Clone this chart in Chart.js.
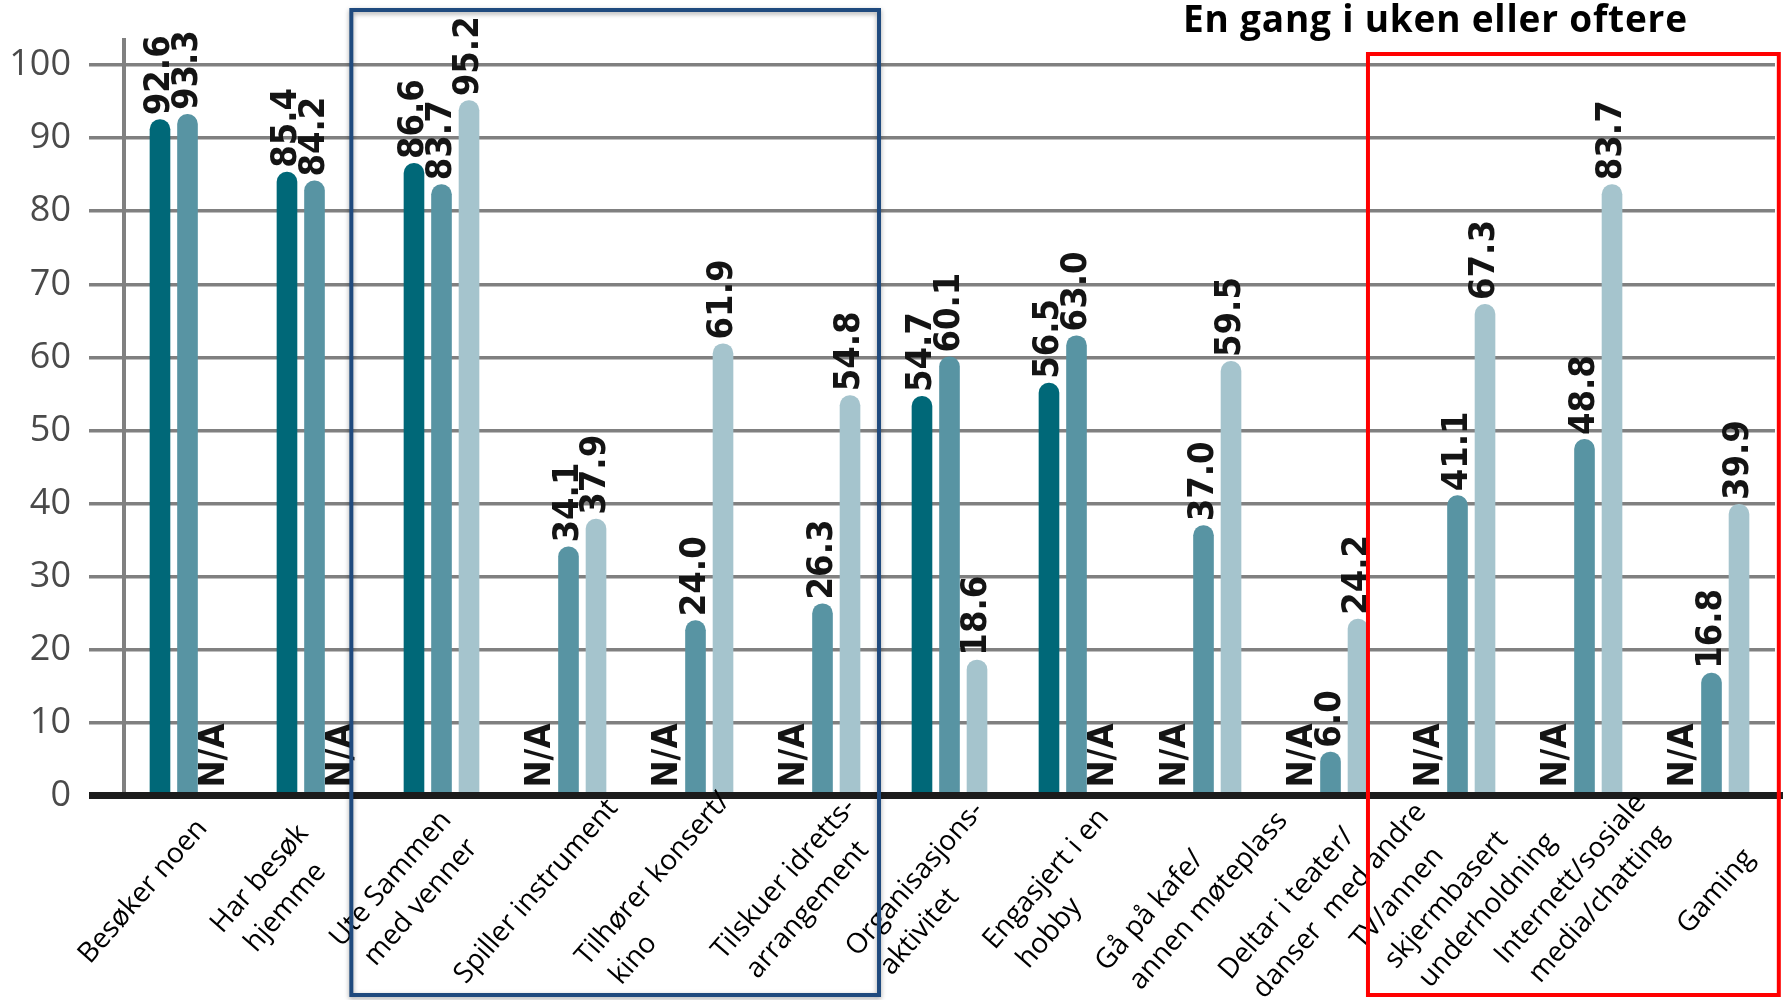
<!DOCTYPE html>
<html>
<head>
<meta charset="utf-8">
<script src="https://cdn.jsdelivr.net/npm/chart.js@4/dist/chart.umd.min.js"></script>
<style>
  html, body { margin: 0; padding: 0; background: #fff; }
  #wrap { position: relative; width: 1783px; height: 1000px; overflow: hidden; }
  #chart { position: absolute; left: 0; top: 0; }
  #heading {
    position: absolute; left: 1183px; top: -1px;
    font: 700 37px "Open Sans", sans-serif; letter-spacing: 0.8px;
    line-height: 1; color: #000; white-space: nowrap;
  }
</style>
</head>
<body>
<div id="wrap">
  <canvas id="chart" width="1783" height="1000"></canvas>
  <div id="heading">En gang i uken eller oftere</div>
</div>
<script>
// Activities (category axis); nested arrays are line breaks
const categories = [
  "Besøker noen",
  ["Har besøk", "hjemme"],
  ["Ute Sammen", "med venner"],
  "Spiller instrument",
  ["Tilhører konsert/", "kino"],
  ["Tilskuer idretts-", "arrangement"],
  ["Organisasjons-", "aktivitet"],
  ["Engasjert i en", "hobby"],
  ["Gå på kafe/", "annen møteplass"],
  ["Deltar i teater/", "danser  med andre"],
  ["TV/annen", "skjermbasert", "underholdning"],
  ["Internett/sosiale", "media/chatting"],
  "Gaming"
];

// Percent per survey round; null = not asked (shown as N/A)
const round1 = [92.6, 85.4, 86.6, null, null, null, 54.7, 56.5, null, null, null, null, null];
const round2 = [93.3, 84.2, 83.7, 34.1, 24.0, 26.3, 60.1, 63.0, 37.0, 6.0, 41.1, 48.8, 16.8];
const round3 = [null, null, 95.2, 37.9, 61.9, 54.8, 18.6, null, 59.5, 24.2, 67.3, 83.7, 39.9];

// Value-axis grid: labelled every 10, minor lines every 5
const yTickLabels = [0, 10, 20, 30, 40, 50, 60, 70, 80, 90, 100];
const yGridValues = [0, 5, 10, 15, 20, 25, 30, 35, 40, 45, 50, 55, 60, 65, 70, 75, 80, 85, 90, 95, 100];

const missingText = "N/A";

// Highlight frames around groups of categories
const frames = [
  { from: 2, to: 5, color: "#1f4a7e", top: 10, before: 0.71, after: 0.445, shadow: true },
  { from: 10, to: 12, color: "#ff0000", top: 54, before: 0.705, after: 0.53, shadow: false }
];

const valueLabelPlugin = {
  id: "valueLabels",
  afterDatasetsDraw(chart) {
    const { ctx } = chart;
    const y = chart.scales.y;
    const zeroY = y.getPixelForValue(0);
    // heavy baseline on top of the bar feet
    ctx.save();
    ctx.strokeStyle = "#1c1c1c";
    ctx.lineWidth = 7;
    ctx.beginPath();
    ctx.moveTo(89, zeroY);
    ctx.lineTo(chart.width, zeroY);
    ctx.stroke();
    ctx.restore();

    chart.data.datasets.forEach((ds, di) => {
      const meta = chart.getDatasetMeta(di);
      meta.data.forEach((bar, i) => {
        const v = ds.data[i];
        ctx.save();
        let text, py;
        if (v === null || v === undefined) {
          text = missingText;
          py = zeroY - 8;
        } else {
          text = v.toFixed(1);
          py = bar.y - 4;
        }
        ctx.font = 'bold 36px "DejaVu Sans Condensed", "DejaVu Sans"';
        ctx.translate(bar.x, py);
        ctx.rotate(-Math.PI / 2);
        ctx.fillStyle = "#141414";
        ctx.textAlign = "left";
        ctx.textBaseline = "middle";
        ctx.fillText(text, 0, 0);
        ctx.restore();
      });
    });
  }
};

// Slanted category names under the axis, fanned slightly wider than the bar groups
const categoryLabelPlugin = {
  id: "categoryLabels",
  afterDraw(chart) {
    const { ctx } = chart;
    const x = chart.scales.x;
    const angle = -49 * Math.PI / 180;
    const lineGap = 38, lineShift = 8, spread = 1.032;
    const mid = (x.left + x.right) / 2;
    ctx.save();
    ctx.font = '28px "Open Sans"';
    ctx.fillStyle = "#000";
    ctx.textAlign = "left";
    ctx.textBaseline = "middle";
    chart.data.labels.forEach((lab, i) => {
      const lines = Array.isArray(lab) ? lab : [lab];
      const widths = lines.map(t => ctx.measureText(t).width);
      const starts = lines.map((_, k) => k * lineShift);
      const along = Math.max(...lines.map((_, k) => starts[k] + widths[k]));
      const cx = along / 2;
      const cy = (lines.length - 1) * lineGap / 2;
      const ax = mid - 20 + (x.getPixelForValue(i) - mid) * spread;
      ctx.save();
      ctx.translate(ax, x.top + 96);
      ctx.rotate(angle);
      lines.forEach((t, k) => ctx.fillText(t, starts[k] - cx, k * lineGap - cy));
      ctx.restore();
    });
    ctx.restore();
  }
};

const framePlugin = {
  id: "frames",
  afterDraw(chart) {
    const { ctx } = chart;
    const x = chart.scales.x;
    const step = x.getPixelForValue(1) - x.getPixelForValue(0);
    frames.forEach(f => {
      const left = x.getPixelForValue(f.from) - f.before * step;
      const right = x.getPixelForValue(f.to) + f.after * step;
      ctx.save();
      if (f.shadow) {
        ctx.shadowColor = "rgba(0,0,0,0.35)";
        ctx.shadowBlur = 5;
        ctx.shadowOffsetY = 2;
      }
      ctx.strokeStyle = f.color;
      ctx.lineWidth = 4;
      ctx.strokeRect(left, f.top, right - left, 995 - f.top);
      ctx.restore();
    });
  }
};

new Chart(document.getElementById("chart"), {
  type: "bar",
  data: {
    labels: categories,
    datasets: [
      { label: "Runde 1", data: round1, backgroundColor: "#006878" },
      { label: "Runde 2", data: round2, backgroundColor: "#5894a3" },
      { label: "Runde 3", data: round3, backgroundColor: "#a5c4cd" }
    ]
  },
  options: {
    responsive: false,
    animation: false,
    devicePixelRatio: 1,
    layout: { padding: { top: 30, right: 8, left: 0, bottom: 0 } },
    datasets: {
      bar: {
        categoryPercentage: 0.65,
        barPercentage: 0.75,
        borderRadius: { topLeft: 10, topRight: 10, bottomLeft: 0, bottomRight: 0 },
        borderSkipped: "bottom"
      }
    },
    plugins: {
      legend: { display: false },
      tooltip: { enabled: false },
      title: { display: false }
    },
    scales: {
      x: {
        grid: { display: false, drawTicks: false },
        border: { display: false },
        ticks: { display: false },
        afterFit(scale) { scale.height = 204.5; }
      },
      y: {
        min: 0,
        max: 103.5,
        afterBuildTicks(scale) {
          scale.ticks = yGridValues.map(v => ({ value: v }));
        },
        ticks: {
          padding: 18,
          color: "#4a4a4a",
          font: { family: "Open Sans", size: 36, weight: "400" },
          callback: v => (yTickLabels.includes(v) ? String(v) : "")
        },
        grid: {
          tickLength: 35,
          color: c => (c.tick.value === 0 ? "#1c1c1c" : (c.tick.value % 10 === 0 ? "#808080" : "#a8a8a8")),
          lineWidth: c => (c.tick.value === 0 ? 7 : (c.tick.value % 10 === 0 ? 3.5 : 2.5))
        },
        border: { display: true, color: "#808080", width: 4 },
        afterFit(scale) { scale.width = 124; }
      }
    }
  },
  plugins: [valueLabelPlugin, categoryLabelPlugin, framePlugin]
});
</script>
</body>
</html>
